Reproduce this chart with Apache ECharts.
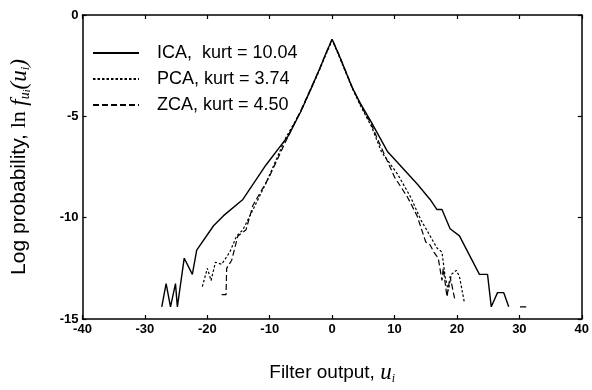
<!DOCTYPE html>
<html><head><meta charset="utf-8">
<script src="https://cdn.jsdelivr.net/npm/echarts@6/dist/echarts.min.js"></script>
<style>html,body{margin:0;padding:0;background:#fff}#c{width:592px;height:390px}</style>
</head><body><div id="c"></div>
<script>
const seriesNames = ['ICA,  kurt = 10.04', 'PCA, kurt = 3.74', 'ZCA, kurt = 4.50'];

const icaX = [-27.3,-26.6,-25.9,-25.1,-24.8,-23.7,-22.4,-21.7,-19.0,-17.4,-14.3,-10.6,-7.0,-5.0,-3.3,-2.0,-1.0,0,1.0,2.0,3.2,4.5,6.3,8.9,13.6,15.7,16.8,17.6,18.9,20.4,23.6,24.9,25.5,26.5,27.5,28.3,29.2,30.1,31.1];
const icaY = [-14.4,-13.25,-14.4,-13.25,-14.4,-12.0,-12.8,-11.6,-10.4,-9.9,-9.1,-7.4,-5.95,-4.75,-3.57,-2.65,-1.9,-1.2,-1.9,-2.65,-3.57,-4.35,-5.3,-6.75,-8.33,-9.1,-9.6,-9.6,-10.55,-10.9,-12.8,-12.8,-14.4,-13.7,-13.7,-14.4,null,-14.4,-14.4];

const pcaX = [-20.8,-20.0,-19.4,-18.7,-17.7,-16.4,-15.3,-14.3,-13.0,-10.6,-7.5,-5.0,-3.3,-2.0,-1.0,0,1.0,2.0,3.2,4.5,6.3,7.9,10.5,12.6,14.2,15.7,16.8,17.6,18.1,18.6,19.1,19.9,20.4,21.2];
const pcaY = [-13.4,-12.5,-13.1,-12.2,-12.3,-11.7,-10.9,-10.6,-9.8,-8.3,-6.1,-4.75,-3.6,-2.7,-1.95,-1.25,-1.95,-2.7,-3.6,-4.45,-5.5,-6.75,-7.86,-9.0,-10.1,-10.9,-11.5,-11.7,-12.9,-13.6,-12.8,-12.6,-12.9,-14.2];

const zcaX = [-17.7,-17.0,-16.9,-16.1,-15.1,-13.8,-12.7,-10.1,-7.0,-5.0,-3.3,-2.0,-1.0,0,1.0,2.0,3.2,4.5,6.3,7.1,10.0,12.1,13.6,15.0,15.7,16.3,17.0,17.6,17.8,18.4,18.9,19.7];
const zcaY = [-13.8,-13.8,-12.5,-12.1,-10.9,-10.6,-9.4,-8.0,-5.95,-4.7,-3.55,-2.65,-1.9,-1.2,-1.9,-2.65,-3.55,-4.4,-5.4,-6.0,-8.0,-9.0,-9.9,-11.2,-11.35,-11.7,-12.0,-13.1,-12.5,-13.9,-12.9,-14.1];

const xMin = -40, xMax = 40, xStep = 10;
const yMin = -15, yMax = 0, yStep = 5;

function pairs(xs, ys) { return xs.map((x, i) => [x, ys[i] === null ? '-' : ys[i]]); }

const chart = echarts.init(document.getElementById('c'), null, {renderer: 'canvas'});
const lblStyle = {color: '#000', fontFamily: 'Liberation Sans, Arial, sans-serif', fontSize: 13, fontWeight: 'bold'};
const axLine = {show: true, onZero: false, lineStyle: {color: '#000', width: 1.5}};
const tick = {show: true, inside: true, length: 4, lineStyle: {color: '#000', width: 1.2}};

chart.setOption({
  animation: false,
  backgroundColor: '#fff',
  grid: {left: 76, right: 6, top: 15, bottom: 60, containLabel: false},
  legend: {
    orient: 'vertical', left: 87, top: 38, itemGap: 6, itemWidth: 46, itemHeight: 14,
    data: seriesNames,
    itemStyle: {opacity: 0},
    textStyle: {color: '#000', fontFamily: 'Liberation Sans, Arial, sans-serif', fontSize: 18, lineHeight: 20, padding: [0, 0, 0, 13]}
  },
  xAxis: [{
    type: 'value', min: xMin, max: xMax, interval: xStep, position: 'bottom',
    axisLine: axLine, axisTick: tick, splitLine: {show: false},
    axisLabel: Object.assign({margin: 4}, lblStyle),
    name: '{n|Filter output, }{u|u}{s|i}', nameLocation: 'middle', nameGap: 42,
    nameTextStyle: {rich: {
      n: {fontFamily: 'Liberation Sans, Arial, sans-serif', fontSize: 19, color: '#000', lineHeight: 24},
      u: {fontFamily: 'Liberation Serif, serif', fontStyle: 'italic', fontSize: 23, color: '#000', lineHeight: 24},
      s: {fontFamily: 'Liberation Serif, serif', fontStyle: 'italic', fontSize: 12, color: '#000', lineHeight: 12, verticalAlign: 'bottom'}
    }}
  }, {
    type: 'value', min: xMin, max: xMax, interval: xStep, position: 'top',
    axisLine: axLine, axisTick: tick, axisLabel: {show: false}, splitLine: {show: false}
  }],
  yAxis: [{
    type: 'value', min: yMin, max: yMax, interval: yStep, position: 'left',
    axisLine: axLine, axisTick: tick, splitLine: {show: false},
    axisLabel: Object.assign({margin: 4}, lblStyle),
    name: '{n|Log probability, }{r|ln }{f|f}{s|u}{t|i}{f|(u}{t2|i}{f|)}',
    nameLocation: 'middle', nameGap: 50, nameRotate: 90,
    nameTextStyle: {rich: {
      n: {fontFamily: 'Liberation Sans, Arial, sans-serif', fontSize: 21, color: '#000', lineHeight: 26},
      r: {fontFamily: 'Liberation Serif, serif', fontSize: 22, color: '#000', lineHeight: 26},
      f: {fontFamily: 'Liberation Serif, serif', fontStyle: 'italic', fontSize: 23, color: '#000', lineHeight: 26},
      s: {fontFamily: 'Liberation Serif, serif', fontStyle: 'italic', fontSize: 14, color: '#000', lineHeight: 13, verticalAlign: 'bottom'},
      t: {fontFamily: 'Liberation Serif, serif', fontStyle: 'italic', fontSize: 10, color: '#000', lineHeight: 9, verticalAlign: 'bottom'},
      t2: {fontFamily: 'Liberation Serif, serif', fontStyle: 'italic', fontSize: 13, color: '#000', lineHeight: 13, verticalAlign: 'bottom'}
    }}
  }, {
    type: 'value', min: yMin, max: yMax, interval: yStep, position: 'right',
    axisLine: axLine, axisTick: tick, axisLabel: {show: false}, splitLine: {show: false}
  }],
  series: [
    {name: seriesNames[0], type: 'line', data: pairs(icaX, icaY), symbol: 'none', showSymbol: false,
     lineStyle: {color: '#000', width: 1.4, type: 'solid'}, itemStyle: {color: '#000', opacity: 0}},
    {name: seriesNames[1], type: 'line', data: pairs(pcaX, pcaY), symbol: 'none', showSymbol: false,
     lineStyle: {color: '#000', width: 1.2, type: [2.5, 2]}, itemStyle: {color: '#000', opacity: 0}},
    {name: seriesNames[2], type: 'line', data: pairs(zcaX, zcaY), symbol: 'none', showSymbol: false,
     lineStyle: {color: '#000', width: 1.2, type: [6, 3]}, itemStyle: {color: '#000', opacity: 0}}
  ]
});
</script></body></html>
